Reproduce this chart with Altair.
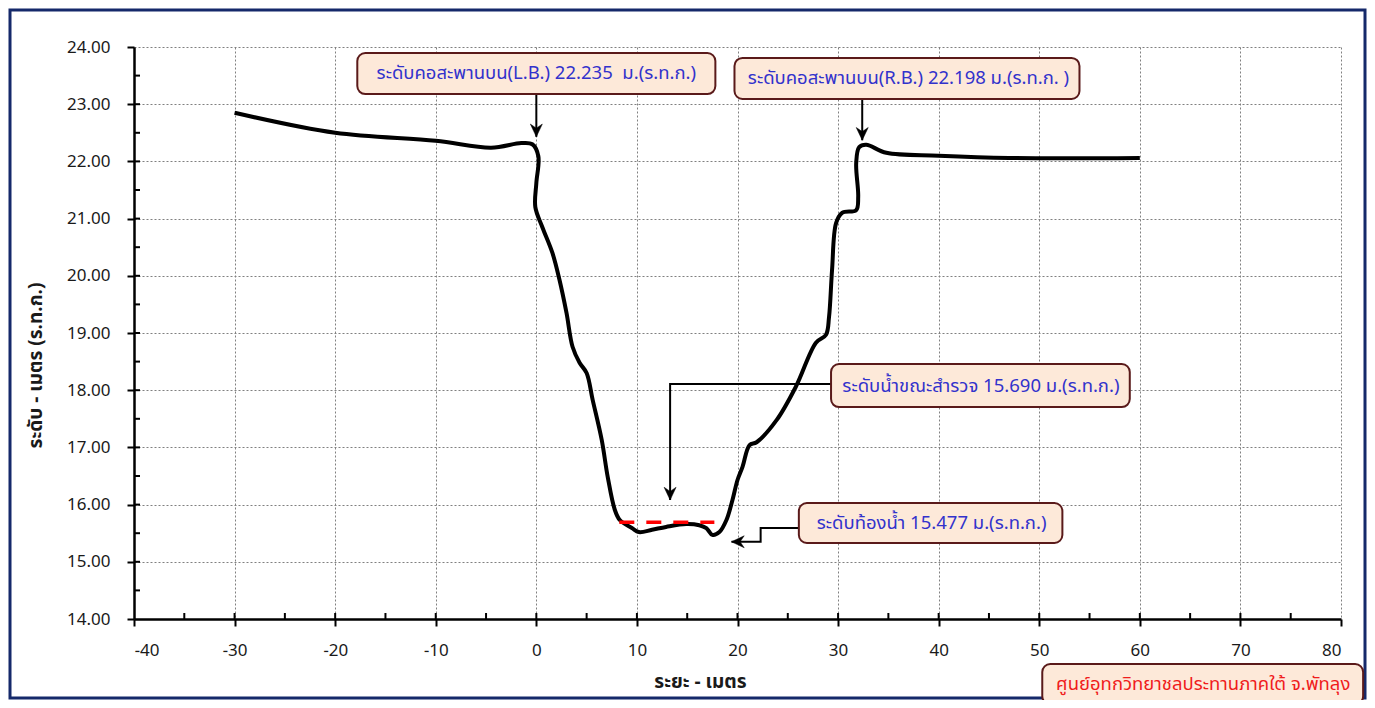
import altair as alt
import pandas as pd

# ---- profile (distance m, elevation m MSL) ----
prof_x = [-30, -20, -10, -4.5, -1.5, -0.4, 0.2, 0.0, -0.1, 0.6, 1.6, 2.3, 3.0, 3.6, 4.3, 5.0,
          5.6, 6.5, 7.1, 7.8, 8.3, 9.5, 10.2, 11.5, 12.9, 14.9, 16.2, 16.9, 17.5, 18.2, 18.9,
          19.5, 20.0, 20.5, 21.2, 21.9, 23.9, 25.8, 27.8, 28.8, 29.1, 29.4, 29.8, 30.4, 31.8,
          32.0, 31.8, 32.1, 32.8, 34.8, 40, 47, 60]
prof_y = [22.85, 22.50, 22.36, 22.24, 22.32, 22.30, 22.09, 21.62, 21.20, 20.85, 20.40, 19.93,
          19.35, 18.76, 18.48, 18.30, 17.83, 17.13, 16.48, 15.91, 15.73, 15.59, 15.52, 15.56,
          15.61, 15.66, 15.64, 15.59, 15.47, 15.52, 15.73, 16.08, 16.43, 16.66, 17.04, 17.09,
          17.48, 18.06, 18.83, 18.97, 19.28, 20.10, 20.92, 21.10, 21.15, 21.38, 21.97, 22.25,
          22.29, 22.15, 22.10, 22.06, 22.06]

# ---- surveyed water level ----
wl_x = [8.25, 17.7]
wl_y = [15.69, 15.69]

# ---- annotation boxes (data coords) ----
box_x1 = [-17.8, 19.7, 29.3, 26.1, 50.3]
box_x2 = [17.8, 54.0, 59.0, 52.3, 82.2]
box_y1 = [23.895, 23.808, 18.458, 16.028, 13.213]
box_y2 = [23.178, 23.091, 17.706, 15.329, 12.51]
box_tx = [0.0, 37.0, 44.2, 39.3, 66.3]
box_ty = [23.54, 23.45, 18.08, 15.68, 12.86]
box_text = ["ระดับคอสะพานบน(L.B.) 22.235 \u00a0ม.(ร.ท.ก.)",
            "ระดับคอสะพานบน(R.B.) 22.198 ม.(ร.ท.ก. )",
            "ระดับน้ำขณะสำรวจ 15.690 ม.(ร.ท.ก.)",
            "ระดับท้องน้ำ 15.477 ม.(ร.ท.ก.)",
            "ศูนย์อุทกวิทยาชลประทานภาคใต้ จ.พัทลุง"]
box_color = ["#3232cc", "#3232cc", "#3232cc", "#3232cc", "#f01c1c"]

# ---- leader lines (segment id, x, y) ----
arr_seg = [0, 0, 1, 1, 2, 2, 2, 3, 3, 3, 3]
arr_x = [0.0, 0.0, 32.4, 32.4, 29.3, 13.3, 13.3, 26.1, 22.3, 22.3, 19.4]
arr_y = [23.178, 22.43, 23.091, 22.37, 18.11, 18.11, 16.08, 15.59, 15.59, 15.35, 15.35]
head_x = [0.0, 32.4, 13.3, 19.4]
head_y = [22.43, 22.37, 16.08, 15.35]
head_ang = [0, 0, 0, 90]

x_ticks = list(range(-40, 81, 10))
y_ticks = list(range(14, 25))
x_minor = list(range(-35, 80, 5))
y_minor = [v / 2 for v in range(29, 48)]

FONT = "Tahoma, 'Noto Sans Thai', 'Leelawadee UI', 'DejaVu Sans', sans-serif"

prof = pd.DataFrame({"x": prof_x, "y": prof_y, "i": range(len(prof_x))})
wl = pd.DataFrame({"x": wl_x, "y": wl_y})
boxes = pd.DataFrame({"x1": box_x1, "x2": box_x2, "y1": box_y1, "y2": box_y2,
                      "tx": box_tx, "ty": box_ty, "t": box_text, "c": box_color})
arrows = pd.DataFrame({"seg": arr_seg, "x": arr_x, "y": arr_y, "i": range(len(arr_x))})
heads = pd.DataFrame({"x": head_x, "y": head_y, "a": head_ang})
xm = pd.DataFrame({"x": x_minor})
ym = pd.DataFrame({"y": y_minor})

xs = alt.Scale(domain=[-40, 80], nice=False, zero=False)
ys = alt.Scale(domain=[14, 24], nice=False, zero=False)

xaxis = alt.Axis(values=x_ticks, format="d", title="ระยะ - เมตร", grid=True,
                 titleX=566, titleY=62, titleBaseline="middle", titleAlign="center")
yaxis = alt.Axis(values=y_ticks, format=".2f", title="ระดับ - เมตร (ร.ท.ก.)", grid=True,
                 titleX=-99, titleY=318, titleBaseline="middle", titleAlign="center",
                 titleAngle=270)

frame = alt.Chart(pd.DataFrame({"k": [0]})).mark_rect(
    fillOpacity=0, stroke="#15296a", strokeWidth=3
).encode(x=alt.value(-124), x2=alt.value(1231), y=alt.value(-37), y2=alt.value(651))

line = alt.Chart(prof).mark_line(
    stroke="black", strokeWidth=4, interpolate="catmull-rom"
).encode(x=alt.X("x:Q", scale=xs, axis=xaxis), y=alt.Y("y:Q", scale=ys, axis=yaxis), order="i:Q")

xminor = alt.Chart(xm).mark_rule(color="black", strokeWidth=2).encode(
    x=alt.X("x:Q", scale=xs), y=alt.value(572), y2=alt.value(566))
yminor = alt.Chart(ym).mark_rule(color="black", strokeWidth=2).encode(
    y=alt.Y("y:Q", scale=ys), x=alt.value(0), x2=alt.value(6))

water = alt.Chart(wl).mark_line(stroke="#ff0000", strokeWidth=3.5, strokeDash=[15, 12]).encode(
    x=alt.X("x:Q", scale=xs), y=alt.Y("y:Q", scale=ys))

lead = alt.Chart(arrows).mark_line(stroke="black", strokeWidth=2).encode(
    x=alt.X("x:Q", scale=xs), y=alt.Y("y:Q", scale=ys), detail="seg:N", order="i:Q")

head = alt.Chart(heads).mark_point(
    shape="M0,0 L-0.8,-1.7 L0,-1.15 L0.8,-1.7 Z", filled=True, fill="black",
    stroke="black", strokeWidth=0.5, opacity=1, size=225
).encode(x=alt.X("x:Q", scale=xs), y=alt.Y("y:Q", scale=ys), angle=alt.Angle("a:Q", scale=None))

rects = alt.Chart(boxes).mark_rect(
    fill="#fde9d9", stroke="#5a1a1a", strokeWidth=2, cornerRadius=8
).encode(x=alt.X("x1:Q", scale=xs), x2="x2:Q", y=alt.Y("y1:Q", scale=ys), y2="y2:Q")

texts = alt.Chart(boxes).mark_text(font=FONT, fontSize=18.5, align="center", baseline="middle").encode(
    x=alt.X("tx:Q", scale=xs), y=alt.Y("ty:Q", scale=ys), text="t:N",
    color=alt.Color("c:N", scale=None))

chart = alt.layer(line, frame, xminor, yminor, water, lead, head, rects, texts).properties(
    width=1207, height=572,
    padding={"left": 126, "top": 39, "right": 26, "bottom": 81},
    autosize=alt.AutoSizeParams(type="none"),
    background="white",
).configure_view(stroke=None).configure_axis(
    labelFont=FONT, labelFontSize=17, labelColor="#1a1a1a",
    titleFont=FONT, titleFontSize=19, titleFontWeight="bold", titleColor="#1a1a1a",
    domainColor="black", domainWidth=2.5, tickColor="black", tickWidth=2, tickSize=7,
    gridColor="#808080", gridDash=[2, 2], gridWidth=1, labelPadding=16,
).configure_axisY(labelPadding=17)

chart.save("out.html", embed_options={"renderer": "svg", "actions": False})
